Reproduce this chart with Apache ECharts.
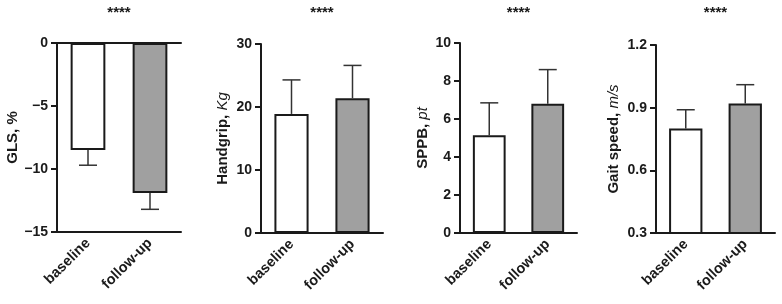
<!DOCTYPE html>
<html>
<head>
<meta charset="utf-8">
<script src="https://cdn.jsdelivr.net/npm/echarts@6/dist/echarts.min.js"></script>
<style>
  html, body { margin: 0; padding: 0; background: #fff; }
  #chart { width: 782px; height: 304px; }
</style>
</head>
<body>
<div id="chart"></div>
<script>
// data
var categories = ['baseline', 'follow-up'];
var glsMean = [-8.5, -11.9];
var glsSd = [1.2, 1.3];
var gripMean = [18.9, 21.4];
var gripSd = [5.4, 5.2];
var sppbMean = [5.15, 6.8];
var sppbSd = [1.7, 1.8];
var gaitMean = [0.80, 0.92];
var gaitSd = [0.09, 0.09];
var yTicks = [
  { min: -15, max: 0, interval: 5 },
  { min: 0, max: 30, interval: 10 },
  { min: 0, max: 10, interval: 2 },
  { min: 0.3, max: 1.2, interval: 0.3 }
];
var stars = ['****', '****', '****', '****'];

var FONT = 'Liberation Sans';
var INK = '#1a1a1a';
var barColors = ['#ffffff', '#a0a0a0'];

// panel layout
var panels = [
  { left: 57, top: 43, width: 124, height: 189, gap: 37, name: ['GLS, %', ''] },
  { left: 261, top: 44, width: 122, height: 189, gap: 31, name: ['Handgrip, ', 'Kg'] },
  { left: 460, top: 43, width: 117, height: 190, gap: 30, name: ['SPPB, ', 'pt'] },
  { left: 656, top: 45, width: 119, height: 188, gap: 35, name: ['Gait speed, ', 'm/s'] }
];
var means = [glsMean, gripMean, sppbMean, gaitMean];
var sds = [glsSd, gripSd, sppbSd, gaitSd];
var decimals = [0, 0, 0, 1];

var chart = echarts.init(document.getElementById('chart'));

var grids = [], xAxes = [], yAxes = [], series = [], graphics = [];

panels.forEach(function (p, i) {
  grids.push({ left: p.left, top: p.top, width: p.width, height: p.height });
  xAxes.push({
    type: 'category', gridIndex: i, data: categories, position: 'bottom',
    axisLine: { onZero: false, lineStyle: { color: INK, width: 2 } },
    axisTick: { alignWithLabel: true, length: 6, lineStyle: { color: INK, width: 2 } },
    axisLabel: { rotate: 45, margin: 9, color: INK, fontFamily: FONT, fontWeight: 'bold', fontSize: 14.5 }
  });
  var yt = yTicks[i];
  yAxes.push({
    type: 'value', gridIndex: i, min: yt.min, max: yt.max, interval: yt.interval,
    name: p.name[1] ? '{b|' + p.name[0] + '}{i|' + p.name[1] + '}' : '{b|' + p.name[0] + '}',
    nameLocation: 'middle', nameGap: p.gap, nameRotate: 90,
    nameTextStyle: {
      rich: {
        b: { fontFamily: FONT, fontWeight: 'bold', fontSize: 15, color: INK },
        i: { fontFamily: FONT, fontStyle: 'italic', fontSize: 15, color: INK }
      }
    },
    splitLine: { show: false },
    axisLine: { show: true, onZero: false, lineStyle: { color: INK, width: 2 } },
    axisTick: { show: true, length: 6, lineStyle: { color: INK, width: 2 } },
    axisLabel: {
      margin: 9, color: INK, fontFamily: FONT, fontWeight: 'bold', fontSize: 14,
      formatter: (function (d) {
        return function (v) { return v.toFixed(d).replace('-', '\u2212'); };
      })(decimals[i])
    }
  });

  series.push({
    type: 'bar', xAxisIndex: i, yAxisIndex: i, barWidth: '56%', clip: true,
    data: means[i].map(function (v, k) {
      return { value: v, itemStyle: { color: barColors[k] } };
    }),
    itemStyle: { borderColor: INK, borderWidth: 2 },
    z: 2
  });

  series.push({
    type: 'custom', xAxisIndex: i, yAxisIndex: i, z: 1,
    data: means[i].map(function (v, k) { return [k, v, sds[i][k]]; }),
    renderItem: function (params, api) {
      var x = api.value(0), m = api.value(1), s = api.value(2);
      var end = m + (m < 0 ? -s : s);
      var a = api.coord([x, m]);
      var b = api.coord([x, end]);
      var half = 9;
      var st = { stroke: '#333', lineWidth: 1.5 };
      return {
        type: 'group',
        children: [
          { type: 'line', shape: { x1: a[0], y1: a[1], x2: b[0], y2: b[1] }, style: st },
          { type: 'line', shape: { x1: b[0] - half, y1: b[1], x2: b[0] + half, y2: b[1] }, style: st }
        ]
      };
    }
  });

  graphics.push({
    type: 'text', x: p.left + p.width / 2, y: 5,
    style: { text: stars[i], textAlign: 'center', font: 'bold 15px ' + FONT, fill: INK }
  });
});

// GLS panel also has its zero line drawn across the top
xAxes.push({
  type: 'category', gridIndex: 0, data: categories, position: 'top',
  axisLine: { onZero: false, lineStyle: { color: INK, width: 2 } },
  axisTick: { show: false }, axisLabel: { show: false }
});

chart.setOption({
  animation: false,
  grid: grids,
  xAxis: xAxes,
  yAxis: yAxes,
  series: series,
  graphic: graphics
});
</script>
</body>
</html>
